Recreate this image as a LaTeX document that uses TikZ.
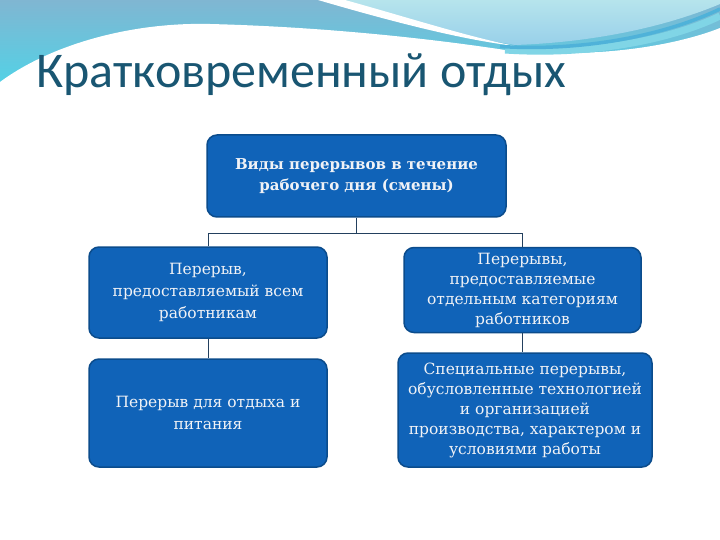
\documentclass[tikz,border=0pt]{standalone}
\usepackage{fontspec}
\setmainfont{DejaVu Serif}
\newfontfamily\titlefont{Carlito}
\definecolor{boxfill}{HTML}{1063B8}
\definecolor{boxedge}{HTML}{0B4C8C}
\definecolor{boxtext}{HTML}{F0F2F6}
\definecolor{linecol}{HTML}{23405E}
\definecolor{titlecol}{HTML}{195672}
\definecolor{steel}{HTML}{80B6D2}
\definecolor{cyanl}{HTML}{52D2E6}
\definecolor{paleblue}{HTML}{B6E4EC}
\definecolor{midblue}{HTML}{98D0EA}
\definecolor{bandd}{HTML}{4FB2D9}
\definecolor{bandl}{HTML}{80D5E6}
\tikzset{
  boxst/.style={draw=boxedge, line width=1.5pt, fill=boxfill, rounded corners=10pt,
    text=boxtext, align=center, inner sep=0pt, font=\fontsize{15.5}{22}\selectfont},
  conn/.style={draw=linecol, line width=0.8pt}
}
\begin{document}
\begin{tikzpicture}[x=1pt,y=-1pt]
\useasboundingbox (0,0) rectangle (720,540);
% background
\fill[white] (0,0) rectangle (720,540);
\shade[top color=steel, bottom color=cyanl] (0,0) rectangle (720,85);
\shade[top color=paleblue, bottom color=midblue]
  (325,0) .. controls (400,20) and (460,36) .. (515,45)
  .. controls (600,42) and (670,25) .. (720,4) -- (720,0) -- cycle;
\fill[white] (318,0) .. controls (400,24) and (465,40) .. (515,46)
  .. controls (465,36) and (410,18) .. (345,0) -- cycle;
\fill[white] (0,82) .. controls (50,45) and (130,22) .. (210,24)
  .. controls (330,27) and (440,40) .. (505,50)
  .. controls (600,60) and (680,44) .. (720,28) -- (720,540) -- (0,540) -- cycle;
\draw[bandl, line width=7pt] (505,50) .. controls (595,56) and (675,38) .. (720,16);
\draw[bandd, line width=3.5pt] (500,46.5) .. controls (590,52) and (670,33) .. (720,9);
% title
\node[anchor=base west, inner sep=0pt, text=titlecol, font=\titlefont\fontsize{50}{56}\selectfont]
  (title) at (36,88) {Кратковременный отдых};
% boxes
\node[boxst, minimum width=299pt, minimum height=82pt, font=\bfseries\fontsize{15}{21}\selectfont]
  (top) at (356.5,176) {Виды перерывов в течение\\рабочего дня (смены)};
\node[boxst, minimum width=238pt, minimum height=91pt]
  (l1) at (208,292.5) {Перерыв,\\предоставляемый всем\\работникам};
\node[boxst, minimum width=238pt, minimum height=108pt]
  (l2) at (208,413) {Перерыв для отдыха и\\питания};
\node[boxst, minimum width=237pt, minimum height=85pt, font=\fontsize{15.5}{20}\selectfont]
  (r1) at (522.5,290) {Перерывы,\\предоставляемые\\отдельным категориям\\работников};
\node[boxst, minimum width=254pt, minimum height=114pt, font=\fontsize{15.5}{20}\selectfont]
  (r2) at (525,410) {Специальные перерывы,\\обусловленные технологией\\и организацией\\производства, характером и\\условиями работы};
% connectors
\coordinate (jl) at (208,233);
\coordinate (jr) at (522.5,233);
\draw[conn] (top.south) -- (top.south |- jl);
\draw[conn] (l1.north) -- (jl) -- (jr) -- (r1.north);
\draw[conn] (l1.south) -- (l2.north);
\draw[conn] (r1.south) -- (r1.south |- r2.north);
\end{tikzpicture}
\end{document}
